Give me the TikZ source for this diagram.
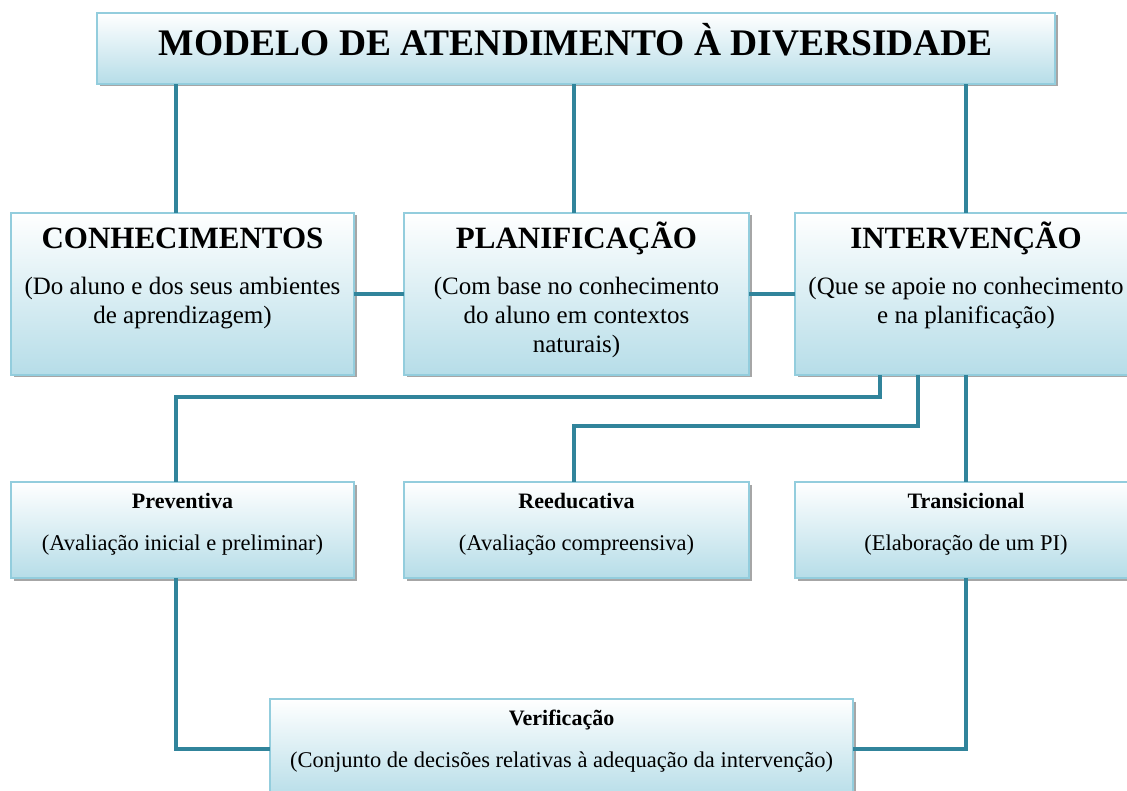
\documentclass[tikz,border=0pt]{standalone}
\usepackage{fontspec}
\setmainfont{Liberation Serif}
\usetikzlibrary{shadows,calc}
\definecolor{boxbot}{HTML}{B6DDE8}
\definecolor{boxline}{HTML}{93CDDD}
\definecolor{connc}{HTML}{31849B}
\begin{document}
\begin{tikzpicture}[x=1pt,y=-1pt,
  box/.style={draw=boxline, line width=1.2pt, top color=white, bottom color=boxbot,
    drop shadow={shadow xshift=2.5pt, shadow yshift=-2.5pt, fill=black, opacity=0.35},
    inner sep=0pt, outer sep=0pt},
  conn/.style={draw=connc, line width=3.6pt},
  txt/.style={anchor=base, inner sep=0pt},
  bigtitle/.style={txt, font=\bfseries\fontsize{37.5}{40}\selectfont},
  head/.style={txt, font=\bfseries\fontsize{31}{34}\selectfont},
  body/.style={txt, font=\fontsize{25}{28}\selectfont},
  shead/.style={txt, font=\bfseries\fontsize{22}{24}\selectfont},
  sbody/.style={txt, font=\fontsize{22.5}{24}\selectfont}]
\clip (0,0) rectangle (1127,791);
\fill[white] (0,0) rectangle (1127,791);
% boxes
\node[box, minimum width=958pt, minimum height=71pt] (title) at (576,48.5) {};
\node[box, minimum width=343pt, minimum height=162pt] (conh) at (182.5,294) {};
\node[box, minimum width=345pt, minimum height=162pt] (plan) at (576.5,294) {};
\node[box, minimum width=342pt, minimum height=162pt] (interv) at (966,294) {};
\node[box, minimum width=343pt, minimum height=96pt] (prev) at (182.5,530) {};
\node[box, minimum width=345pt, minimum height=96pt] (reed) at (576.5,530) {};
\node[box, minimum width=342pt, minimum height=96pt] (trans) at (966,530) {};
\node[box, minimum width=583pt, minimum height=100pt] (verif) at (561.5,749) {};
% texts
\node[bigtitle] at (576,56) {MODELO DE ATENDIMENTO À DIVERSIDADE};
\node[head] at (182.5,248.5) {CONHECIMENTOS};
\node[body] at (182.5,295) {(Do aluno e dos seus ambientes};
\node[body] at (182.5,324) {de aprendizagem)};
\node[head] at (576.5,248.5) {PLANIFICAÇÃO};
\node[body] at (576.5,295) {(Com base no conhecimento};
\node[body] at (576.5,324) {do aluno em contextos};
\node[body] at (576.5,353) {naturais)};
\node[head] at (966,248.5) {INTERVENÇÃO};
\node[body] at (966,295) {(Que se apoie no conhecimento};
\node[body] at (966,324) {e na planificação)};
\node[shead] at (182.5,508) {Preventiva};
\node[sbody] at (182.5,550) {(Avaliação inicial e preliminar)};
\node[shead] at (576.5,508) {Reeducativa};
\node[sbody] at (576.5,550) {(Avaliação compreensiva)};
\node[shead] at (966,508) {Transicional};
\node[sbody] at (966,550) {(Elaboração de um PI)};
\node[shead] at (561.5,725) {Verificação};
\node[sbody] at (561.5,767) {(Conjunto de decisões relativas à adequação da intervenção)};
% connectors
\draw[conn] ([xshift=-6.5pt]conh.north) -- ([xshift=-6.5pt]conh.north |- title.south);
\draw[conn] ([xshift=-2.5pt]plan.north) -- ([xshift=-2.5pt]plan.north |- title.south);
\draw[conn] (interv.north) -- (interv.north |- title.south);
\draw[conn] (conh.east) -- (plan.west);
\draw[conn] (plan.east) -- (interv.west);
\draw[conn] ([xshift=-86pt]interv.south) -- ++(0,22) -| ([xshift=-6.5pt]prev.north);
\draw[conn] ([xshift=-48pt]interv.south) -- ++(0,51) -| ([xshift=-2.5pt]reed.north);
\draw[conn] (interv.south) -- (trans.north);
\draw[conn] ([xshift=-6.5pt]prev.south) |- (verif.west);
\draw[conn] (trans.south) |- (verif.east);
\end{tikzpicture}
\end{document}
